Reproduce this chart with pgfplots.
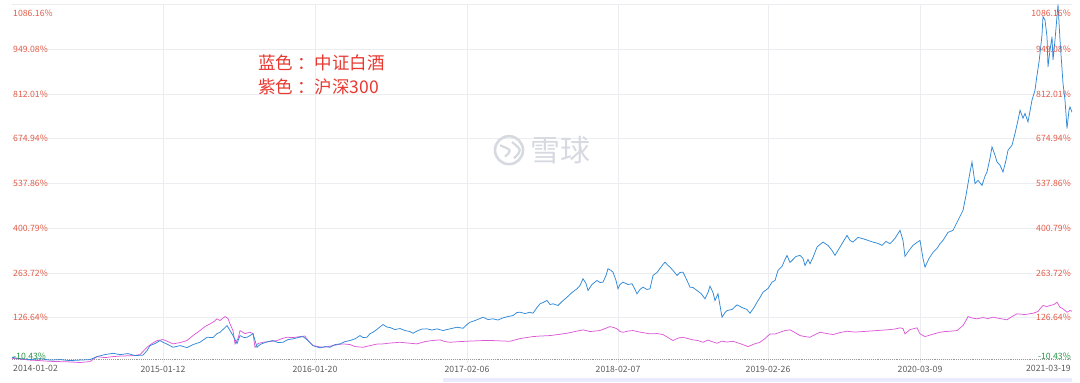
\documentclass[border=0pt]{standalone}
\usepackage{pgfplots}
\pgfplotsset{compat=1.18}
\usepackage{fontspec}
\setmainfont{Noto Sans CJK SC}
\definecolor{bl}{RGB}{47,137,214}
\definecolor{pk}{RGB}{221,90,214}
\definecolor{lr}{RGB}{226,92,72}
\definecolor{gn}{RGB}{40,150,70}
\definecolor{ar}{RGB}{232,56,48}
\definecolor{gr}{RGB}{236,237,241}
\definecolor{wm}{RGB}{214,217,224}
\definecolor{xt}{RGB}{90,90,90}
\tikzset{lt/.style={anchor=west, text=lr, font=\fontsize{8.7}{10}\selectfont, inner sep=1pt},
         rt/.style={anchor=east, text=lr, font=\fontsize{8.7}{10}\selectfont, inner sep=1pt}}
\begin{document}
\begin{tikzpicture}
\begin{axis}[
  scale only axis, width=1060pt, height=358pt,
  xmin=12, xmax=1072, ymin=-10.43, ymax=1086.16,
  clip mode=individual,
  axis line style={draw=none}, tick style={draw=none},
  ytick={126.64,263.72,400.79,537.86,674.94,812.01,949.08,1086.16},
  yticklabels={},
  xtick={163,315,467,618,768,920},
  xticklabels={2015-01-12,2016-01-20,2017-02-06,2018-02-07,2019-02-26,2020-03-09},
  xticklabel style={font=\fontsize{8.7}{10}\selectfont, text=xt},
  grid=major, major grid style={draw=gr, line width=0.7pt},
]
\draw[densely dotted, line width=0.9pt, draw=gray!80] (axis cs:12,0) -- (axis cs:1072,0);
\node[text=wm, font=\fontsize{30}{32}\selectfont] at (axis cs:560,640) {雪球};
\draw[wm, line width=2.6pt] (axis cs:509,640) circle[radius=14pt];
\draw[wm, line width=2.2pt] (axis cs:500,655) .. controls (axis cs:512,640) .. (axis cs:505,620);
\draw[wm, line width=2.2pt] (axis cs:512,665) .. controls (axis cs:522,640) .. (axis cs:514,615);
\addplot[pk, line width=0.75pt] coordinates {
(12,2.5)(20,0)(30,-3.1)(40,-4.6)(50,-6.8)(60,-7.7)(70,-8.6)(80,-10.43)(90,-7.7)(97,7.7)(105,4.6)(113,7.7)(120,9.2)(133,10.7)(140,13.8)(147,36.2)(152,47.6)(157,56.8)(163,59.8)(168,53.7)(173,46.6)(180,50.6)(187,56.8)(193,72.1)(200,87.5)(205,99.6)(210,108)(214,115.1)(217,123.4)(220,118.1)(225,130.4)(228,124.3)(230,108)(233,87.5)(235,46.6)(238,62.9)(240,87.5)(245,78.2)(250,82.2)(253,78.2)(255,36.2)(258,47.6)(263,51.6)(270,53.7)(277,56.8)(282,62.9)(287,66.9)(293,66)(300,69)(305,70.6)(308,56.8)(313,41.4)(318,38.4)(323,36.2)(328,38.4)(333,41.4)(338,44.5)(343,46.6)(350,44.5)(355,38.4)(363,36.2)(370,41.4)(377,46)(383,46.6)(390,49.1)(400,51.6)(408,49.1)(417,46.6)(425,53.7)(432,56.8)(440,58.9)(445,53.7)(450,51.6)(460,53.7)(470,55.2)(483,56.8)(493,56.8)(500,55.8)(510,54.6)(520,62.9)(533,69)(540,70.6)(550,72.1)(558,75.2)(567,79.2)(575,84.4)(583,89.6)(590,84.4)(600,87.5)(605,93.6)(610,99.6)(614,96.6)(617,92.7)(620,84.4)(623,82.2)(628,85.9)(633,87.5)(640,82.8)(650,77.3)(657,78.2)(663,75.2)(668,66)(673,56.8)(678,64.4)(683,66.9)(688,62.9)(693,58.9)(698,56.8)(703,51.6)(708,58.3)(712,53.7)(717,48.5)(722,55.2)(727,52.2)(733,54.6)(740,47.6)(748,38.4)(754,46)(760,51.6)(765,62.9)(770,77.3)(775,76.7)(780,82.2)(785,87.5)(790,89.6)(795,81.3)(800,72.1)(805,69)(810,66.9)(815,75.2)(820,82.2)(827,78.2)(833,75.2)(840,81.3)(847,85.3)(855,82.8)(867,85.3)(877,87.5)(887,89.6)(895,92.1)(900,95.8)(903,93.6)(905,77.3)(910,90.5)(913,92.7)(917,95.8)(920,77.3)(925,69)(930,73.6)(935,78.2)(940,82.2)(945,84.4)(950,85.3)(957,87.5)(963,102.8)(966,118.1)(968,130.4)(972,125.8)(977,123.4)(983,127.3)(988,124.3)(993,128.3)(1000,124.3)(1007,120.3)(1012,130.4)(1017,138.7)(1025,136.5)(1033,140.5)(1038,145.8)(1040,154)(1043,164.2)(1047,161.1)(1050,164.2)(1054,167.2)(1057,174.3)(1060,158.9)(1063,154)(1067,143.6)(1070,148.8)(1072,146.7)
};
\addplot[bl, line width=0.75pt] coordinates {
(12,5.5)(20,1.5)(30,-1.5)(40,1.5)(50,-3)(60,-1.5)(70,-4.6)(80,-3)(90,-1.5)(97,7.7)(105,13.8)(113,17.8)(120,13.8)(128,16.9)(135,10.7)(143,12.3)(147,26)(150,41.4)(155,47.6)(160,56.8)(163,51.6)(168,44.5)(173,36.2)(180,41.4)(187,35.3)(193,44.5)(200,51.6)(207,66.9)(213,66)(217,78.2)(220,82.2)(224,93.6)(227,102.8)(230,87.5)(233,72.1)(237,47.6)(240,72.1)(244,66)(247,66.9)(250,72.1)(253,78.2)(257,36.2)(260,44.5)(263,48.5)(268,53.7)(273,56.8)(278,50.6)(283,51.6)(288,59.8)(293,62)(298,66)(303,69)(308,56.8)(313,41.4)(320,34.4)(325,38.4)(330,36.2)(335,44.5)(340,46.6)(345,53.7)(350,56.8)(355,62)(360,72.1)(363,66)(367,66.9)(370,78.2)(373,82.2)(378,93.6)(383,105.9)(387,98.2)(390,96.7)(395,90.5)(400,93.6)(405,87.5)(410,84.4)(413,79.2)(418,87.5)(422,92.1)(427,92.7)(432,89)(437,92.7)(443,87.5)(450,92.7)(457,97.6)(463,94.5)(467,105.9)(470,112.9)(475,118.1)(480,124.3)(483,128.3)(488,121.2)(493,123.4)(498,119.7)(503,126.4)(508,130.4)(513,133.5)(517,142.7)(520,143.6)(525,139.6)(530,143.6)(533,140.5)(537,158)(540,169.4)(543,173.4)(547,179.5)(550,167.2)(553,169.4)(558,164.2)(562,176.4)(567,189.6)(572,204)(577,215.4)(580,225.5)(583,246.1)(586,231.7)(588,210.2)(592,228.6)(597,240.9)(600,234.7)(603,235.7)(606,256.2)(608,276.8)(611,271.6)(613,266.3)(616,240.9)(618,215.4)(620,228.6)(623,235.7)(628,228.6)(632,230.8)(635,213.3)(637,200.1)(640,213.3)(643,220.3)(647,213.3)(650,215.4)(653,256.2)(657,265.4)(660,277.7)(663,290)(665,297)(668,286.9)(670,281.7)(673,271.6)(677,256.2)(680,265.4)(683,266.3)(687,240.9)(690,220.3)(693,219.4)(697,210.2)(701,201)(705,184.7)(708,204)(710,223.4)(713,204)(715,179.5)(718,200.1)(720,164.2)(722,128.3)(725,142.7)(727,148.8)(732,151.9)(737,166.3)(742,158)(747,151.9)(750,140.5)(754,158)(757,174.3)(760,188.7)(763,205)(768,216.3)(772,235.7)(775,240.9)(778,271.6)(782,283.8)(785,305.3)(787,317.6)(790,296.1)(792,302.1)(796,314.5)(800,317.6)(803,308.4)(805,286.9)(808,305.3)(810,292.1)(813,311.5)(817,343.1)(820,351.3)(823,358.4)(828,348.3)(832,332.9)(835,317.6)(838,332.9)(842,353.5)(847,379)(850,363.6)(853,358.4)(858,372.8)(863,368.8)(868,363.6)(873,358.4)(878,354.4)(882,348.3)(886,360.5)(890,353.5)(895,369.8)(900,394.3)(903,363.6)(905,314.5)(909,332.9)(913,348.3)(917,357.5)(920,363.6)(923,308.4)(925,281.7)(929,308.4)(933,326.8)(937,339.1)(940,353.5)(943,363.6)(948,388.2)(953,394.3)(958,425)(963,455.7)(966,501.7)(968,537.6)(970,572.3)(972,603.9)(974,560)(975,537.6)(978,547.7)(982,532.4)(985,560)(987,573.2)(990,615.2)(992,649.9)(995,624.4)(997,603.9)(1000,593.8)(1003,573.2)(1006,609.1)(1008,639.8)(1012,655.1)(1015,691)(1018,731.8)(1020,762.5)(1023,738)(1025,752.4)(1028,726.6)(1032,793.2)(1035,823.9)(1037,869.9)(1039,909.8)(1040,936.5)(1042,992.7)(1043,1048.8)(1045,1038.7)(1047,987.5)(1048,895.4)(1050,946.6)(1052,987.5)(1053,915.9)(1055,977.3)(1058,1086.16)(1060,977.3)(1063,844.4)(1065,793.2)(1067,706.4)(1069,762.5)(1070,772.6)(1072,756.4)
};
\node[anchor=west, text=ar, font=\fontsize{17.5}{19}\selectfont, inner sep=0pt] at (axis cs:258,907) {蓝色 ：中证白酒};
\node[anchor=west, text=ar, font=\fontsize{17.5}{19}\selectfont, inner sep=0pt] at (axis cs:258,834) {紫色 ：沪深300};
\node[lt] at (axis cs:12,126.64) {126.64\%};
\node[lt] at (axis cs:12,263.72) {263.72\%};
\node[lt] at (axis cs:12,400.79) {400.79\%};
\node[lt] at (axis cs:12,537.86) {537.86\%};
\node[lt] at (axis cs:12,674.94) {674.94\%};
\node[lt] at (axis cs:12,812.01) {812.01\%};
\node[lt] at (axis cs:12,949.08) {949.08\%};
\node[rt] at (axis cs:1072,126.64) {126.64\%};
\node[rt] at (axis cs:1072,263.72) {263.72\%};
\node[rt] at (axis cs:1072,400.79) {400.79\%};
\node[rt] at (axis cs:1072,537.86) {537.86\%};
\node[rt] at (axis cs:1072,674.94) {674.94\%};
\node[rt] at (axis cs:1072,812.01) {812.01\%};
\node[rt] at (axis cs:1072,949.08) {949.08\%};
\node[lt, yshift=-8.5pt] at (axis cs:12,1086.16) {1086.16\%};
\node[rt, yshift=-8.5pt] at (axis cs:1072,1086.16) {1086.16\%};
\node[lt, text=gn, yshift=6.5pt] at (axis cs:12,-10.43) {-10.43\%};
\node[rt, text=gn, yshift=6.5pt] at (axis cs:1072,-10.43) {-10.43\%};
\node[anchor=north west, text=xt, font=\fontsize{8.7}{10}\selectfont, inner sep=1pt, yshift=-1pt] at (axis cs:12,-10.43) {2014-01-02};
\node[anchor=north east, text=xt, font=\fontsize{8.7}{10}\selectfont, inner sep=1pt, yshift=-1pt] at (axis cs:1072,-10.43) {2021-03-19};
\coordinate (bl0) at (axis cs:0,-70.2);
\coordinate (tr0) at (axis cs:1080,1100);
\coordinate (nb0) at (axis cs:443,-70.2);
\coordinate (nb1) at (axis cs:1072,-58);
\end{axis}
\fill[blue!8] (nb0) rectangle (nb1);
\path (bl0) rectangle (tr0);
\end{tikzpicture}
\end{document}
